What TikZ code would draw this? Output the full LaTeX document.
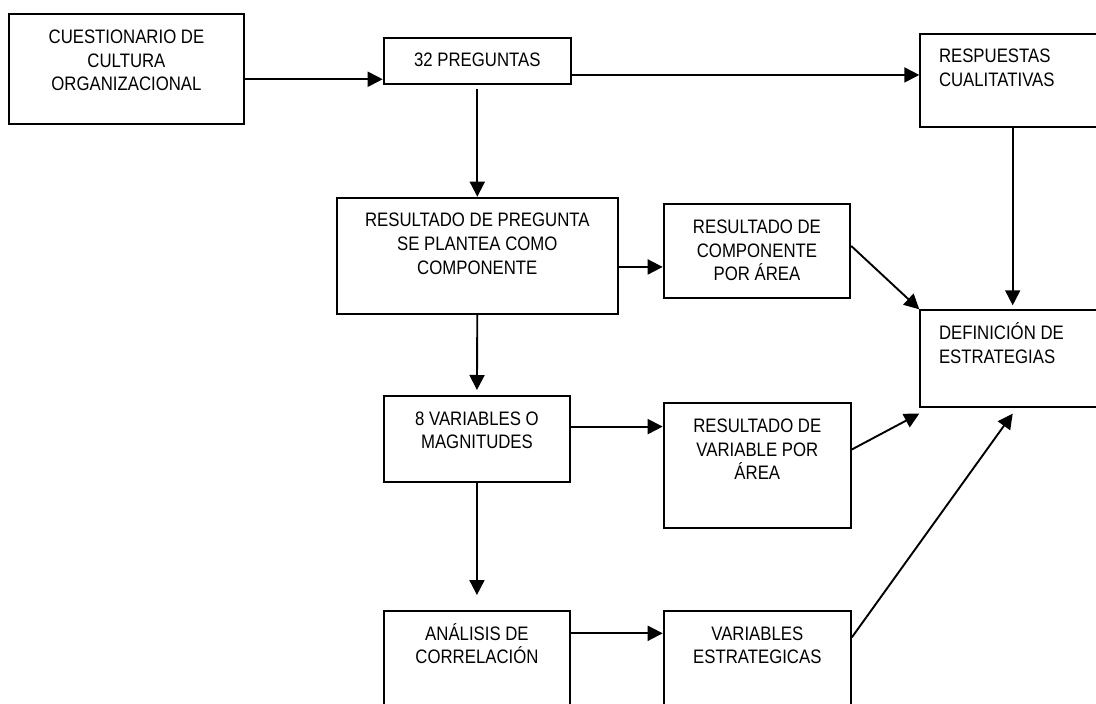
\documentclass[tikz,border=0pt]{standalone}
\usepackage{fontspec}
\setmainfont{Liberation Sans}[FakeStretch=0.86]
\usetikzlibrary{arrows.meta}
\newcommand{\firstline}{\rule{0pt}{19pt}}
\begin{document}
\begin{tikzpicture}[x=1pt,y=-1pt,
  box/.style={draw, line width=1.9pt, inner sep=0pt, anchor=north west},
  lbl/.style={inner sep=0pt, font=\fontsize{19.5pt}{23.7pt}\selectfont, text=black},
  ctr/.style={lbl, align=center, anchor=north},
  lft/.style={lbl, align=left, anchor=north west},
  arr/.style={line width=1.9pt, -{Triangle[length=15pt,width=15pt]}}]
\clip (0,0) rectangle (1096,704);
\fill[white] (0,0) rectangle (1096,704);

% boxes
\node[box, minimum width=234.4pt, minimum height=109.4pt] (b1) at (8.3,13.3) {};
\node[box, minimum width=187.3pt, minimum height=46.6pt]  (b2) at (382.7,36.7) {};
\node[box, minimum width=200pt,   minimum height=93.3pt]  (b3) at (919.3,32.7) {};
\node[box, minimum width=280.7pt, minimum height=116pt]   (b4) at (336,196.7) {};
\node[box, minimum width=186.6pt, minimum height=94pt]    (b5) at (662.7,203.3) {};
\node[box, minimum width=200pt,   minimum height=96.7pt]  (b6) at (919.3,309.3) {};
\node[box, minimum width=186.6pt, minimum height=85.7pt]  (b7) at (382.7,395) {};
\node[box, minimum width=187.3pt, minimum height=124.4pt] (b8) at (662.7,402.3) {};
\node[box, minimum width=186.6pt, minimum height=120pt]   (b9) at (382.7,610) {};
\node[box, minimum width=187.3pt, minimum height=120pt]   (b10) at (662.7,610) {};

% texts
\node[ctr] (t1) at ([yshift=-11pt]b1.north) {\firstline CUESTIONARIO DE\\CULTURA\\ORGANIZACIONAL};
\node[ctr] (t2) at ([yshift=-11pt]b2.north) {\firstline 32 PREGUNTAS};
\node[lft] (t3) at ([xshift=19.5pt,yshift=-11pt]b3.north west) {\firstline RESPUESTAS\\CUALITATIVAS};
\node[ctr] (t4) at ([yshift=-11pt]b4.north) {\firstline RESULTADO DE PREGUNTA\\SE PLANTEA COMO\\COMPONENTE};
\node[ctr] (t5) at ([yshift=-11pt]b5.north) {\firstline RESULTADO DE\\COMPONENTE\\POR ÁREA};
\node[lft] (t6) at ([xshift=19.5pt,yshift=-11pt]b6.north west) {\firstline DEFINICIÓN DE\\ESTRATEGIAS};
\node[ctr] (t7) at ([yshift=-11pt]b7.north) {\firstline 8 VARIABLES O\\MAGNITUDES};
\node[ctr] (t8) at ([yshift=-11pt]b8.north) {\firstline RESULTADO DE\\VARIABLE POR\\ÁREA};
\node[ctr] (t9) at ([yshift=-11pt]b9.north) {\firstline ANÁLISIS DE\\CORRELACIÓN};
\node[ctr] (t10) at ([yshift=-11pt]b10.north) {\firstline VARIABLES\\ESTRATEGICAS};

% connectors
\coordinate (p1) at ([yshift=-10.3pt]b1.east);
\draw[arr] (p1) -- (p1 -| b2.west);
\coordinate (p2) at ([yshift=-14pt]b2.east);
\draw[arr] (p2) -- (p2 -| b3.west);
\draw[arr] ([yshift=-4pt]b2.south) -- (b4.north);
\coordinate (p4) at ([yshift=-11.3pt]b4.east);
\draw[arr] (p4) -- (p4 -| b5.west);
\coordinate (p5) at ([xshift=93.4pt]b3.south west);
\coordinate (q5) at (p5 |- b6.north);
\draw[arr] (p5) -- ([yshift=4pt]q5);
\draw[arr] ([yshift=5.3pt]b5.east) -- (b6.north west);
\draw[arr] (b4.south) -- ([yshift=5pt]b7.north);
\coordinate (p8) at ([yshift=12.2pt]b7.east);
\draw[arr] (p8) -- (p8 -| b8.west);
\draw[arr] ([yshift=16pt]b8.east) -- ([yshift=-5.7pt]b6.south west);
\draw[arr] (b7.south) -- ([yshift=15pt]b9.north);
\coordinate (p11) at ([yshift=-23.3pt]b9.north east);
\draw[arr] (p11) -- (p11 -| b10.west);
\draw[arr] ([yshift=-27.3pt]b10.north east) -- ([xshift=93.4pt,yshift=-5.7pt]b6.south west);
\end{tikzpicture}
\end{document}
